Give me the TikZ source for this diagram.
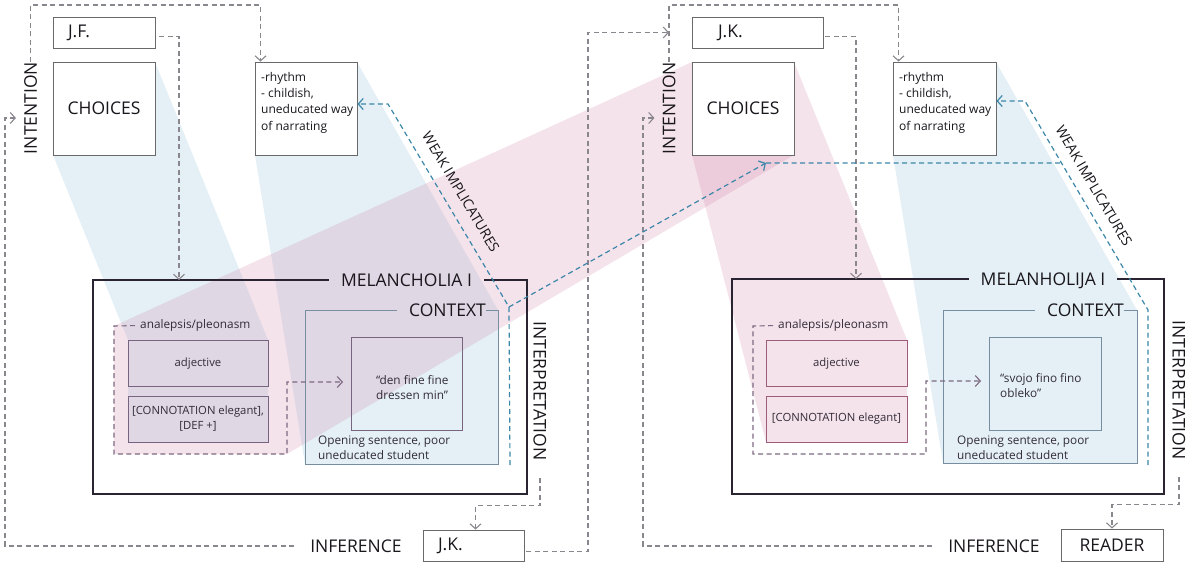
\documentclass[tikz,border=0pt]{standalone}
\usepackage{fontspec}
\setmainfont{Open Sans}
\usetikzlibrary{arrows.meta,calc}

\definecolor{ink}{RGB}{25,22,28}
\definecolor{boxline}{RGB}{105,105,108}
\definecolor{frameline}{RGB}{42,36,50}
\definecolor{ctxline}{RGB}{118,142,160}
\definecolor{innerL}{RGB}{120,100,128}
\definecolor{innerR}{RGB}{158,92,122}
\definecolor{dashgray}{RGB}{138,134,142}
\definecolor{dashplum}{RGB}{125,105,130}
\definecolor{dashblue}{RGB}{60,134,168}
\definecolor{bandpink}{RGB}{200,105,150}
\definecolor{bandblue}{RGB}{120,180,205}
\definecolor{smallink}{RGB}{50,44,56}

\begin{document}
\begin{tikzpicture}[x=1pt,y=-1pt,
  tbox/.style={draw=boxline,line width=0.9pt,fill=white,inner sep=0pt},
  bigfont/.style={font=\fontsize{17.5}{21}\selectfont,text=ink},
  bigtext/.style={bigfont,inner sep=0pt,text depth=0pt},
  smalltext/.style={font=\fontsize{11.8}{15}\selectfont,text=smallink,inner sep=0pt,align=left},
  notetext/.style={font=\fontsize{12}{16.3}\selectfont,text=ink,inner sep=0pt,align=left},
  wilabel/.style={font=\fontsize{14}{16}\selectfont,text=ink,inner sep=0pt,text depth=0pt},
  innerbox/.style={line width=0.9pt,inner sep=0pt,minimum width=140,minimum height=46,
    font=\fontsize{11.3}{15}\selectfont,text=smallink,align=center},
  emptybox/.style={inner sep=0pt,outer sep=0pt},
  melframe/.style={draw=frameline,line width=1.5pt},
  ctxframe/.style={draw=ctxline,line width=0.9pt},
  greydash/.style={draw=dashgray,line width=1.1pt,dash pattern=on 5pt off 3.5pt},
  plumdash/.style={draw=dashplum,line width=1.1pt,dash pattern=on 5pt off 3.5pt},
  bluedash/.style={draw=dashblue,line width=1.2pt,dash pattern=on 5pt off 3.5pt},
  chevron/.style={-{Straight Barb[length=5pt,width=11pt]}},
  pinkfill/.style={fill=bandpink,fill opacity=0.19},
  bluefill/.style={fill=bandblue,fill opacity=0.2},
]
\useasboundingbox (0,0) rectangle (1192,562);

% ---- translucent projection bands ----
\fill[bluefill] (53,155) -- (155,62) -- (268,340) -- (268,442) -- (128,442) -- (128,340) -- cycle;
\fill[bluefill] (255,155) -- (255,62) -- (357,62) -- (498,310) -- (498,464) -- (305,464) -- cycle;
\fill[bluefill] (893,155) -- (893,62) -- (996,62) -- (1137,310) -- (1137,463) -- (943,463) -- cycle;
\fill[pinkfill] (114,326) -- (692,62) -- (794,155) -- (287,454) -- (114,454) -- cycle;
\fill[pinkfill] (692,155) -- (692,62) -- (794,62) -- (907,340) -- (907,442) -- (766,442) -- cycle;

% ---- left half: author side ----
\node[tbox,bigfont,minimum width=102,minimum height=31,text width=102,align=left] (jfL)
  at (104,32.5) {\hspace*{15pt}J.F.};
\node[tbox,bigfont,minimum width=102,minimum height=93] (chL) at (104,108.5) {CHOICES};
\node[tbox,minimum width=102,minimum height=93] (rhL) at (306,108.5) {};
\node[notetext,anchor=north west] (rhLt) at (261,72)
  {-rhythm\\- childish,\\uneducated way\\of narrating};
\node[bigtext,rotate=90] (intL) at (30.5,108) {INTENTION};

% frame MELANCHOLIA I
\node[emptybox,minimum width=434,minimum height=214] (melL) at (310,387) {};
\node[bigtext,inner xsep=12pt] (melTL) at (406.5,280) {MELANCHOLIA I};
\draw[melframe] (melTL.west) -- (melL.north west) -- (melL.south west)
  -- (melL.south east) -- (melL.north east) -- (melTL.east);

% context
\node[emptybox,minimum width=193,minimum height=154] (ctxL) at (401.5,387) {};
\node[bigtext,anchor=east] (ctxTL) at (486,310) {CONTEXT};
\draw[ctxframe] ([xshift=-12pt]ctxTL.west) -- (ctxL.north west) -- (ctxL.south west)
  -- (ctxL.south east) -- (ctxL.north east) -- (ctxTL.east);
\node[emptybox,draw=innerL,line width=0.9pt,minimum width=111,minimum height=93] (qL) at (406.5,383.5) {};
\node[smalltext,anchor=west] (qLt) at (376,388) {“den fine fine\\dressen min”};
\node[smalltext,anchor=north west] (opL) at (318,436) {Opening sentence, poor\\uneducated student};

% analepsis group
\node[smalltext,anchor=mid west] (anL) at (140,326) {analepsis/pleonasm};
\node[innerbox,draw=innerL] (adjL) at (198,363.5) {adjective};
\node[innerbox,draw=innerL] (conL) at (198,419) {[CONNOTATION elegant],\\{}[DEF +]};
\coordinate (aLtl) at (114,326);
\coordinate (aLbl) at (114,454);
\coordinate (aLbr) at (287,454);
\coordinate (aLr) at (287,382);
\draw[plumdash,chevron,shorten >=8pt] ([xshift=-5pt]anL.west) -- (aLtl) -- (aLbl)
  -- (aLbr) -- (aLr) -- (aLr -| qL.west);

\node[bigtext,rotate=-90] (interpL) at (540,391) {INTERPRETATION};
\node[bigtext] (infL) at (356,546) {INFERENCE};
\node[tbox,bigfont,minimum width=101,minimum height=31,text width=101,align=left] (jkB)
  at (473.5,545.5) {\hspace*{15pt}J.K.};

% ---- right half: translator side ----
\node[tbox,bigfont,minimum width=131,minimum height=31,text width=131,align=left] (jkR)
  at (757.5,32.5) {\hspace*{26pt}J.K.};
\node[tbox,bigfont,minimum width=102,minimum height=93] (chR) at (743,108.5) {CHOICES};
\node[tbox,minimum width=103,minimum height=93] (rhR) at (944.5,108.5) {};
\node[notetext,anchor=north west] (rhRt) at (899,72)
  {-rhythm\\- childish,\\uneducated way\\of narrating};
\node[bigtext,rotate=90] (intR) at (669,108) {INTENTION};

\node[emptybox,minimum width=432,minimum height=215] (melR) at (948,386.5) {};
\node[bigtext,inner xsep=12pt] (melTR) at (1043,279) {MELANHOLIJA I};
\draw[melframe] (melTR.west) -- (melR.north west) -- (melR.south west)
  -- (melR.south east) -- (melR.north east) -- (melTR.east);

\node[emptybox,minimum width=194,minimum height=153] (ctxR) at (1040,386.5) {};
\node[bigtext,anchor=east] (ctxTR) at (1124,310) {CONTEXT};
\draw[ctxframe] ([xshift=-12pt]ctxTR.west) -- (ctxR.north west) -- (ctxR.south west)
  -- (ctxR.south east) -- (ctxR.north east) -- (ctxTR.east);
\node[emptybox,draw=ctxline,line width=0.9pt,minimum width=112,minimum height=93] (qR) at (1045,383.5) {};
\node[smalltext,anchor=west] (qRt) at (1000,386) {“svojo fino fino\\obleko”};
\node[smalltext,anchor=north west] (opR) at (957,436) {Opening sentence, poor\\uneducated student};

\node[smalltext,anchor=mid west] (anR) at (778,326) {analepsis/pleonasm};
\node[innerbox,draw=innerR,minimum width=141] (adjR) at (836.5,363.5) {adjective};
\node[innerbox,draw=innerR,minimum width=141] (conR) at (836.5,419) {[CONNOTATION elegant]};
\coordinate (aRtl) at (753,326);
\coordinate (aRbl) at (753,454);
\coordinate (aRbr) at (926,454);
\coordinate (aRr) at (926,381);
\draw[plumdash,chevron,shorten >=8pt] ([xshift=-5pt]anR.west) -- (aRtl) -- (aRbl)
  -- (aRbr) -- (aRr) -- (aRr -| qR.west);

\node[bigtext,rotate=-90] (interpR) at (1179,390) {INTERPRETATION};
\node[bigtext] (infR) at (994,546) {INFERENCE};
\node[tbox,bigfont,minimum width=102,minimum height=32] (rdB) at (1112,545) {READER};

% ---- grey dashed flow ----
\coordinate (topline) at (0,5);
\coordinate (loopL) at (5,118);
\coordinate (loopR) at (643,118);
\coordinate (riseA) at (588,0);
\draw[greydash,chevron] (intL.east) -- (intL.east |- topline) -| ([xshift=6pt]rhL.north west);
\draw[greydash,chevron] ([xshift=4pt,yshift=-4pt]jfL.east) -| ($(melL.north west)+(86,0)$);
\draw[greydash,chevron,shorten >=8pt] ([xshift=-16pt]infL.west) -| (loopL) -- (loopL -| intL.north);
\draw[greydash,chevron] ([yshift=-17pt]interpL.east) -- ++(0,28) -| ([xshift=2pt]jkB.north);
\draw[greydash,chevron] ([xshift=2pt,yshift=-6pt]jkB.east) -| (riseA |- jkR.west) -- (intR.east |- jkR.west);

\draw[greydash,chevron] (intR.east) -- (intR.east |- topline) -| ([xshift=6pt]rhR.north west);
\draw[greydash,chevron] ([xshift=2pt,yshift=-4pt]jkR.east) -| ($(melR.north west)+(124,0)$);
\draw[greydash,chevron,shorten >=8pt] ([xshift=-16pt]infR.west) -| (loopR) -- (loopR -| intR.north);
\draw[greydash,chevron] ([yshift=-17pt]interpR.east) -- ++(0,28) -| (rdB.north);

% ---- weak implicatures (blue dashed) ----
\coordinate (wiLfoot) at (510,465);
\coordinate (wiLknee) at (509,307);
\coordinate (wiLtop) at (388,104);
\coordinate (wiMeet) at (766,163);
\coordinate (wiFar) at (1200,163);
\coordinate (wiRfoot) at (1148,465);
\coordinate (wiRknee) at (1148,310);
\coordinate (wiRtop) at (1025,101);
\draw[bluedash,chevron] (wiLfoot) -- (wiLknee) -- (wiLtop) -- (wiLtop -| rhL.east);
\draw[bluedash,chevron] (wiLknee) -- (wiMeet);
\draw[bluedash] (wiMeet) -- (intersection of wiMeet--wiFar and wiRknee--wiRtop);
\draw[bluedash,chevron] (wiRfoot) -- (wiRknee) -- (wiRtop) -- (wiRtop -| rhR.east);

\node[wilabel,rotate=-59.2] (wiLt) at (461,192) {WEAK IMPLICATURES};
\node[wilabel,rotate=-59.7] (wiRt) at (1094,186) {WEAK IMPLICATURES};

\end{tikzpicture}
\end{document}
